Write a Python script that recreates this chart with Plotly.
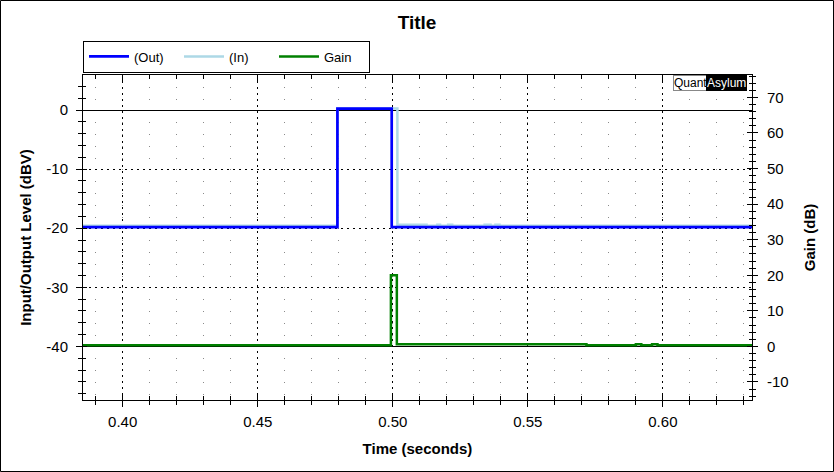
import plotly.graph_objects as go

# step data (hv steps)
out_t = [0.385, 0.4795, 0.4996, 0.633]
out_db = [-19.8, 0.25, -19.8, -19.8]

in_t = [0.385, 0.4795, 0.5017, 0.5125, 0.5165, 0.5175, 0.5205, 0.5220, 0.5340, 0.5362, 0.5380, 0.5395, 0.633]
in_db = [-19.6, 0.25, -19.4, -19.6, -19.4, -19.6, -19.4, -19.6, -19.4, -19.6, -19.4, -19.6, -19.6]

gain_t = [0.385, 0.4993, 0.5015, 0.5717, 0.5900, 0.5920, 0.5960, 0.5980, 0.633]
gain_db = [0.3, 20.0, 0.6, 0.35, 0.6, 0.35, 0.6, 0.35, 0.35]

x_ticks = [0.40, 0.45, 0.50, 0.55, 0.60]
left_ticks = [0, -10, -20, -30, -40]
right_ticks = [70, 60, 50, 40, 30, 20, 10, 0, -10]

X_RANGE = [0.3853, 0.6330]
L_RANGE = [-49.07, 5.93]
R_RANGE = [-15.07, 76.3]

FONT = "Arial, Liberation Sans, sans-serif"

fig = go.Figure()
fig.add_trace(go.Scatter(x=in_t, y=in_db, name="(In)", mode="lines", line_shape="hv",
                         line=dict(color="#ADD8E6", width=2.5), legendrank=2))
fig.add_trace(go.Scatter(x=out_t, y=out_db, name="(Out)", mode="lines", line_shape="hv",
                         line=dict(color="#0000FF", width=2.7), legendrank=1))
fig.add_trace(go.Scatter(x=gain_t, y=gain_db, name="Gain", mode="lines", line_shape="hv",
                         line=dict(color="#008000", width=2.5), legendrank=3, yaxis="y2"))

# empty traces so the overlay axes (inner tick marks) get drawn
fig.add_trace(go.Scatter(x=[], y=[], xaxis="x2", yaxis="y", showlegend=False, hoverinfo="skip"))
fig.add_trace(go.Scatter(x=[], y=[], xaxis="x", yaxis="y3", showlegend=False, hoverinfo="skip"))
fig.add_trace(go.Scatter(x=[], y=[], xaxis="x", yaxis="y4", showlegend=False, hoverinfo="skip"))

major_dash = "2px,4px"

fig.update_layout(
    width=834, height=472,
    margin=dict(l=83, r=82, t=75, b=72),
    paper_bgcolor="white", plot_bgcolor="white",
    font=dict(family=FONT, size=15, color="black"),
    title=dict(text="<b>Title</b>", x=0.5, xanchor="center", y=1 - 22.5 / 472, yanchor="middle",
               font=dict(size=19, color="black")),
    showlegend=True,
    legend=dict(orientation="h", x=0, xanchor="left", y=(400 - 56.5) / 325, yanchor="middle",
                bordercolor="black", borderwidth=1, bgcolor="white",
                font=dict(size=13), entrywidth=40, itemwidth=40, traceorder="normal"),
    xaxis=dict(
        range=X_RANGE, tickvals=x_ticks, ticktext=[f"{v:.2f}" for v in x_ticks],
        ticks="outside", ticklen=6, tickcolor="black", showline=True, linecolor="black",
        showgrid=True, gridcolor="black", griddash=major_dash, gridwidth=1, zeroline=False,
        minor=dict(dtick=0.01, tick0=0, ticks="outside", ticklen=4, tickcolor="black",
                   showgrid=True, gridcolor="#8a8a8a", griddash="1px,10.8px"),
        title=dict(text="<b>Time (seconds)</b>", standoff=14, font=dict(size=15)),
        ticklabelstandoff=2, layer="above traces",
    ),
    xaxis2=dict(
        range=X_RANGE, overlaying="x", anchor="y", side="bottom",
        tickvals=x_ticks, ticks="inside", ticklen=7, tickcolor="black",
        showline=True, linecolor="black", mirror="ticks", showticklabels=False,
        showgrid=False, zeroline=False,
        minor=dict(dtick=0.01, tick0=0, ticks="inside", ticklen=4, tickcolor="black", showgrid=False),
    ),
    yaxis=dict(
        range=L_RANGE, tickvals=left_ticks, ticktext=[str(v) for v in left_ticks],
        ticks="outside", ticklen=6, tickcolor="black", showline=True, linecolor="black",
        showgrid=True, gridcolor="black", griddash=major_dash, gridwidth=1,
        zeroline=True, zerolinecolor="black", zerolinewidth=1,
        minor=dict(dtick=2, tick0=0, ticks="outside", ticklen=4, tickcolor="black", showgrid=False),
        title=dict(text="<b>Input/Output Level (dBV)</b>", standoff=11, font=dict(size=15)),
        ticklabelstandoff=5, layer="above traces",
    ),
    yaxis3=dict(
        range=L_RANGE, overlaying="y", anchor="x", side="left",
        tickvals=left_ticks, ticks="inside", ticklen=4, tickcolor="black",
        showline=False, showticklabels=False, showgrid=False, zeroline=False,
        minor=dict(dtick=2, tick0=0, ticks="inside", ticklen=3, tickcolor="black", showgrid=False),
    ),
    yaxis2=dict(
        range=R_RANGE, overlaying="y", anchor="x", side="right",
        tickvals=right_ticks, ticktext=[str(v) for v in right_ticks],
        ticks="outside", ticklen=5, tickcolor="black", showline=True, linecolor="black",
        showgrid=False, zeroline=True, zerolinecolor="black", zerolinewidth=1,
        minor=dict(dtick=2, tick0=0, ticks="outside", ticklen=3, tickcolor="black", showgrid=False),
        title=dict(text="<b>Gain (dB)</b>", standoff=16, font=dict(size=15)),
        ticklabelstandoff=6,
    ),
    yaxis4=dict(
        range=R_RANGE, overlaying="y", anchor="x", side="right",
        tickvals=right_ticks, ticks="inside", ticklen=5, tickcolor="black",
        showline=False, showticklabels=False, showgrid=False, zeroline=False,
        minor=dict(dtick=2, tick0=0, ticks="inside", ticklen=3, tickcolor="black", showgrid=False),
    ),
)

# QuantAsylum badge
badge_y = (400 - 82.5) / 325
fig.add_annotation(xref="paper", yref="paper", x=(708 - 83) / 669, y=badge_y,
                   xanchor="right", yanchor="middle", text="Quant", showarrow=False,
                   font=dict(size=12, color="black"), bgcolor="white",
                   bordercolor="#888888", borderwidth=1, borderpad=0)
fig.add_annotation(xref="paper", yref="paper", x=(747 - 83) / 669, y=badge_y,
                   xanchor="right", yanchor="middle", text="Asylum", showarrow=False,
                   font=dict(size=12, color="white"), bgcolor="black",
                   bordercolor="black", borderwidth=1, borderpad=0)

# outer frame
fig.add_shape(type="rect", xref="paper", yref="paper",
              x0=(0.5 - 83) / 669, x1=(833.5 - 83) / 669,
              y0=(400 - 471.5) / 325, y1=(400 - 0.5) / 325,
              line=dict(color="black", width=1), layer="below")

fig.write_html("out.html", config={"displayModeBar": False},
               post_script="document.body.style.margin='0';")
